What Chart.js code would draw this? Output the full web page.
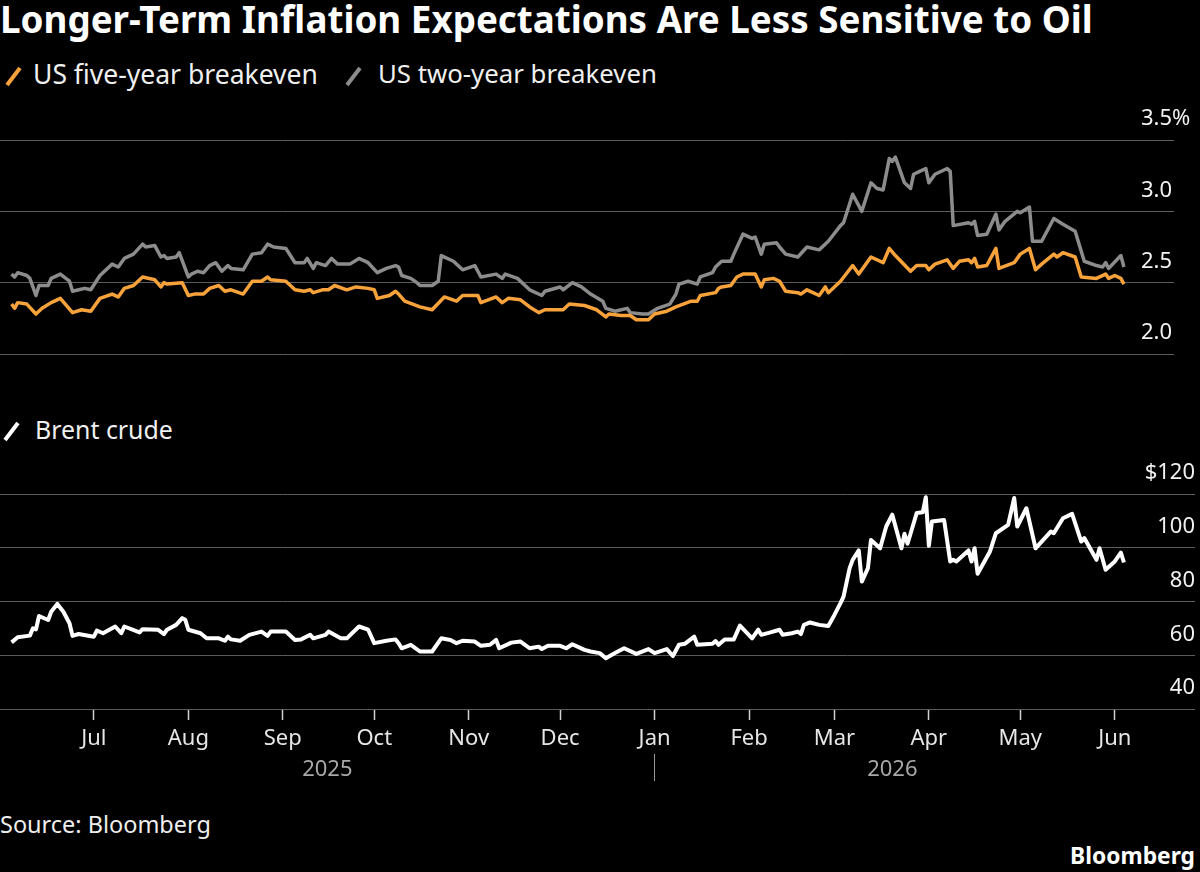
<!DOCTYPE html>
<html>
<head>
<meta charset="utf-8">
<script src="https://cdn.jsdelivr.net/npm/chart.js@4.4.1/dist/chart.umd.min.js"></script>
<style>
  html, body { margin: 0; padding: 0; background: #000; }
  body { width: 1200px; height: 872px; position: relative; overflow: hidden; font-family: 'Noto Sans', sans-serif; color: #fff; }
  .txt { position: absolute; white-space: nowrap; line-height: 1; }
  #title { left: 0; font-weight: 700; font-size: 30px; }
  .legend { font-size: 22px; color: #f0f0f0; }
  .slash { position: absolute; }
  canvas { position: absolute; left: 0; }
  #topChart { top: 100px; }
  #oilChart { top: 460px; }
  #source { left: 0; font-size: 21px; color: #eee; }
  #brand { right: 5px; font-weight: 700; font-size: 22px; }
</style>
</head>
<body>
<div id="title" class="txt">Longer-Term Inflation Expectations Are Less Sensitive to Oil</div>

<svg class="slash" style="left:4px;top:64px" width="20" height="24"><line x1="3" y1="21" x2="16" y2="4" stroke="#f7a23a" stroke-width="4"/></svg>
<div id="lg1" class="txt legend" style="left:33px">US five-year breakeven</div>
<svg class="slash" style="left:344px;top:64px" width="20" height="24"><line x1="3" y1="21" x2="16" y2="4" stroke="#8c8c8c" stroke-width="4"/></svg>
<div id="lg2" class="txt legend" style="left:378px">US two-year breakeven</div>

<svg class="slash" style="left:2px;top:419px" width="20" height="24"><line x1="3" y1="21" x2="16" y2="4" stroke="#ffffff" stroke-width="4"/></svg>
<div id="lg3" class="txt legend" style="left:35px">Brent crude</div>

<canvas id="topChart" width="1200" height="262"></canvas>
<canvas id="oilChart" width="1200" height="340"></canvas>

<div id="source" class="txt">Source: Bloomberg</div>
<div id="brand" class="txt">Bloomberg</div>

<script>
// ---- data ----
const fiveYearDates = [
  '2025-06-04','2025-06-05','2025-06-06','2025-06-09','2025-06-12','2025-06-14','2025-06-17','2025-06-20','2025-06-24','2025-06-27','2025-06-30',
  '2025-07-03','2025-07-07','2025-07-09','2025-07-11','2025-07-14','2025-07-17','2025-07-21','2025-07-23','2025-07-24','2025-07-25','2025-07-30',
  '2025-08-01','2025-08-03','2025-08-06','2025-08-08','2025-08-11','2025-08-13','2025-08-15','2025-08-19','2025-08-22','2025-08-25','2025-08-27','2025-08-28',
  '2025-09-02','2025-09-05','2025-09-08','2025-09-10','2025-09-11','2025-09-14','2025-09-16','2025-09-18','2025-09-22','2025-09-25','2025-09-29',
  '2025-10-01','2025-10-02','2025-10-06','2025-10-08','2025-10-09','2025-10-11','2025-10-16','2025-10-20','2025-10-24','2025-10-28','2025-10-30',
  '2025-11-04','2025-11-05','2025-11-10','2025-11-12','2025-11-14','2025-11-18','2025-11-21','2025-11-24','2025-11-26',
  '2025-12-02','2025-12-04','2025-12-09','2025-12-13','2025-12-16','2025-12-17','2025-12-21','2025-12-24','2025-12-26','2025-12-30',
  '2026-01-01','2026-01-05','2026-01-08','2026-01-13','2026-01-15','2026-01-16','2026-01-21','2026-01-22','2026-01-23','2026-01-26','2026-01-28','2026-01-30',
  '2026-02-03','2026-02-05','2026-02-06','2026-02-09','2026-02-11','2026-02-13','2026-02-17','2026-02-18','2026-02-20','2026-02-24','2026-02-26','2026-02-27',
  '2026-03-03','2026-03-07','2026-03-09','2026-03-13','2026-03-17','2026-03-19','2026-03-21','2026-03-26','2026-03-28','2026-03-31',
  '2026-04-01','2026-04-03','2026-04-07','2026-04-09','2026-04-11','2026-04-14','2026-04-15','2026-04-16','2026-04-17','2026-04-20','2026-04-23','2026-04-24','2026-04-29',
  '2026-05-01','2026-05-04','2026-05-06','2026-05-08','2026-05-12','2026-05-13','2026-05-15','2026-05-19','2026-05-21','2026-05-26','2026-05-29','2026-05-30',
  '2026-06-01','2026-06-03','2026-06-04'
];
const fiveYearValues = [
  2.35,2.32,2.36,2.35,2.28,2.32,2.36,2.39,2.29,2.31,2.30,
  2.39,2.42,2.40,2.46,2.48,2.54,2.52,2.47,2.50,2.49,2.50,
  2.41,2.42,2.42,2.46,2.48,2.44,2.45,2.42,2.51,2.51,2.54,2.52,
  2.51,2.45,2.44,2.45,2.43,2.45,2.45,2.48,2.45,2.47,2.46,
  2.45,2.39,2.41,2.44,2.42,2.37,2.33,2.31,2.40,2.37,2.41,
  2.41,2.36,2.40,2.36,2.39,2.38,2.33,2.29,2.31,
  2.31,2.35,2.34,2.31,2.26,2.28,2.27,2.27,2.24,2.24,
  2.28,2.30,2.33,2.37,2.37,2.41,2.43,2.46,2.47,2.48,2.54,2.56,
  2.56,2.47,2.52,2.53,2.51,2.44,2.43,2.42,2.45,2.41,2.47,2.43,
  2.51,2.62,2.56,2.68,2.64,2.74,2.69,2.58,2.62,2.62,
  2.59,2.63,2.66,2.60,2.65,2.66,2.64,2.67,2.61,2.62,2.74,2.60,2.64,
  2.70,2.74,2.59,2.63,2.70,2.68,2.71,2.68,2.54,2.53,2.56,2.53,
  2.55,2.53,2.49
];

const twoYearDates = [
  '2025-06-04','2025-06-05','2025-06-06','2025-06-09','2025-06-10','2025-06-12','2025-06-13','2025-06-16','2025-06-17','2025-06-20','2025-06-23','2025-06-24','2025-06-26','2025-06-28','2025-06-30',
  '2025-07-03','2025-07-07','2025-07-09','2025-07-11','2025-07-14','2025-07-17','2025-07-18','2025-07-21','2025-07-23','2025-07-24','2025-07-25','2025-07-28','2025-07-29',
  '2025-08-01','2025-08-02','2025-08-04','2025-08-06','2025-08-08','2025-08-10','2025-08-12','2025-08-14','2025-08-15','2025-08-19','2025-08-22','2025-08-25','2025-08-27','2025-08-29',
  '2025-09-02','2025-09-05','2025-09-08','2025-09-09','2025-09-11','2025-09-12','2025-09-15','2025-09-17','2025-09-19','2025-09-23','2025-09-26','2025-09-29',
  '2025-10-02','2025-10-05','2025-10-08','2025-10-09','2025-10-10','2025-10-13','2025-10-15','2025-10-16','2025-10-20','2025-10-22','2025-10-23','2025-10-27','2025-10-30',
  '2025-11-03','2025-11-05','2025-11-10','2025-11-12','2025-11-13','2025-11-17','2025-11-21','2025-11-25','2025-11-26',
  '2025-12-01','2025-12-02','2025-12-05','2025-12-08','2025-12-11','2025-12-15','2025-12-16','2025-12-19','2025-12-23','2025-12-24','2025-12-28','2025-12-30',
  '2026-01-02','2026-01-06','2026-01-08','2026-01-09','2026-01-12','2026-01-15','2026-01-16','2026-01-20','2026-01-21','2026-01-23','2026-01-26','2026-01-27','2026-01-30',
  '2026-02-02','2026-02-03','2026-02-05','2026-02-06','2026-02-10','2026-02-11','2026-02-13','2026-02-17','2026-02-20','2026-02-24','2026-02-27',
  '2026-03-03','2026-03-04','2026-03-07','2026-03-10','2026-03-13','2026-03-15','2026-03-17','2026-03-19','2026-03-20','2026-03-21','2026-03-24','2026-03-26','2026-03-27','2026-03-29','2026-03-31',
  '2026-04-01','2026-04-03','2026-04-07','2026-04-08','2026-04-09','2026-04-14','2026-04-15','2026-04-16','2026-04-17','2026-04-20','2026-04-23','2026-04-24','2026-04-26','2026-04-30',
  '2026-05-01','2026-05-04','2026-05-05','2026-05-08','2026-05-12','2026-05-15','2026-05-19','2026-05-21','2026-05-22','2026-05-26','2026-05-28','2026-05-29','2026-05-30',
  '2026-06-03','2026-06-04'
];
const twoYearValues = [
  2.56,2.54,2.57,2.55,2.53,2.41,2.48,2.48,2.53,2.56,2.51,2.44,2.45,2.46,2.45,
  2.55,2.63,2.61,2.67,2.70,2.77,2.75,2.76,2.68,2.69,2.67,2.68,2.71,
  2.54,2.56,2.58,2.57,2.62,2.64,2.58,2.62,2.60,2.59,2.70,2.71,2.77,2.75,
  2.74,2.64,2.64,2.67,2.60,2.64,2.62,2.67,2.63,2.63,2.67,2.64,
  2.57,2.60,2.62,2.61,2.55,2.53,2.50,2.48,2.48,2.51,2.69,2.65,2.59,
  2.62,2.54,2.56,2.53,2.56,2.53,2.45,2.41,2.44,
  2.47,2.45,2.50,2.47,2.42,2.37,2.32,2.30,2.32,2.29,2.28,2.28,
  2.32,2.35,2.42,2.49,2.51,2.49,2.54,2.57,2.61,2.65,2.65,2.70,2.84,
  2.81,2.82,2.70,2.77,2.78,2.75,2.70,2.68,2.75,2.73,2.79,
  2.90,2.92,3.12,3.00,3.20,3.16,3.15,3.37,3.35,3.38,3.20,3.16,3.26,3.28,3.30,
  3.20,3.26,3.30,3.28,2.90,2.92,2.91,2.93,2.83,2.84,2.98,2.87,2.93,3.00,
  2.99,3.03,2.79,2.79,2.95,2.91,2.86,2.72,2.65,2.62,2.61,2.64,2.60,
  2.69,2.61
];

const brentDates = [
  '2025-06-04','2025-06-06','2025-06-10','2025-06-11','2025-06-12','2025-06-13','2025-06-16','2025-06-17','2025-06-19','2025-06-21','2025-06-23','2025-06-24','2025-06-26',
  '2025-07-01','2025-07-02','2025-07-04','2025-07-08','2025-07-10','2025-07-11','2025-07-16','2025-07-17','2025-07-22','2025-07-24','2025-07-25','2025-07-28','2025-07-30','2025-07-31',
  '2025-08-01','2025-08-05','2025-08-07','2025-08-11','2025-08-13','2025-08-14','2025-08-15','2025-08-18','2025-08-21','2025-08-25','2025-08-27','2025-08-28',
  '2025-09-02','2025-09-05','2025-09-07','2025-09-10','2025-09-11','2025-09-15','2025-09-16','2025-09-20','2025-09-22','2025-09-26','2025-09-29',
  '2025-10-01','2025-10-05','2025-10-08','2025-10-09','2025-10-10','2025-10-13','2025-10-16','2025-10-20','2025-10-23','2025-10-26','2025-10-28','2025-10-30',
  '2025-11-03','2025-11-05','2025-11-08','2025-11-10','2025-11-11','2025-11-15','2025-11-18','2025-11-21','2025-11-24','2025-11-25','2025-11-27',
  '2025-12-01','2025-12-03','2025-12-05','2025-12-09','2025-12-11','2025-12-14','2025-12-16','2025-12-19','2025-12-22','2025-12-26','2025-12-30',
  '2026-01-01','2026-01-05','2026-01-07','2026-01-09','2026-01-11','2026-01-14','2026-01-15','2026-01-20','2026-01-21','2026-01-22','2026-01-24','2026-01-27','2026-01-29',
  '2026-02-02','2026-02-04','2026-02-05','2026-02-08','2026-02-11','2026-02-12','2026-02-15','2026-02-17','2026-02-18','2026-02-19','2026-02-21','2026-02-24','2026-02-27',
  '2026-03-01','2026-03-03','2026-03-04','2026-03-06','2026-03-07','2026-03-09','2026-03-10','2026-03-12','2026-03-13','2026-03-16','2026-03-18','2026-03-20','2026-03-23','2026-03-24','2026-03-25','2026-03-28','2026-03-30','2026-03-31',
  '2026-04-01','2026-04-02','2026-04-06','2026-04-08','2026-04-09','2026-04-10','2026-04-14','2026-04-15','2026-04-16','2026-04-17','2026-04-21','2026-04-23','2026-04-27','2026-04-29','2026-04-30',
  '2026-05-03','2026-05-06','2026-05-11','2026-05-12','2026-05-15','2026-05-18','2026-05-21','2026-05-22','2026-05-26','2026-05-27','2026-05-29',
  '2026-06-01','2026-06-03','2026-06-04'
];
const brentValues = [
  64.8,66.7,67.3,70.0,69.6,74.6,73.1,76.2,79.1,76.2,71.9,67.2,67.9,
  66.9,69.2,68.2,70.7,68.2,70.7,68.5,69.7,69.5,67.9,69.5,71.3,73.8,73.2,
  69.5,68.2,66.3,66.3,65.4,66.9,65.9,65.4,67.6,68.8,67.2,68.8,
  68.8,65.7,65.9,67.6,66.3,67.6,68.8,66.3,66.3,70.7,69.5,
  64.5,65.4,65.9,64.5,62.6,63.9,61.4,61.4,66.3,65.7,64.5,65.4,
  65.1,63.5,63.9,65.7,62.6,64.7,65.1,62.6,63.2,62.3,63.5,
  63.5,62.6,64.1,62.0,61.4,60.8,58.9,60.8,62.6,60.5,62.3,
  60.8,62.3,59.7,63.9,64.3,66.9,63.9,64.3,65.3,63.9,65.9,65.9,71.0,
  66.3,69.5,67.6,68.5,69.5,67.6,68.2,68.8,67.9,71.3,72.2,71.3,70.9,
  75.0,79.4,81.8,92.4,95.5,99.0,87.4,92.4,102.9,99.8,107.9,112.3,99.8,105.2,101.5,112.9,113.2,118.8,
  100.7,109.8,110.3,94.9,95.5,94.9,99.0,94.9,99.8,90.3,98.5,105.4,108.5,118.5,107.9,
  114.7,99.8,106.0,105.4,111.0,112.6,102.3,103.6,95.5,99.8,91.8,
  94.9,98.2,94.5
];

const monthStarts = ['2025-07-01','2025-08-01','2025-09-01','2025-10-01','2025-11-01','2025-12-01',
                     '2026-01-01','2026-02-01','2026-03-01','2026-04-01','2026-05-01','2026-06-01'];
const monthLabels = ['Jul','Aug','Sep','Oct','Nov','Dec','Jan','Feb','Mar','Apr','May','Jun'];
const yearLabels = ['2025', '2026'];
const yearBreak = '2026-01-01';
const pctTicks = [2.0, 2.5, 3.0, 3.5];
const oilTicks = [40, 60, 80, 100, 120];

// ---- helpers ----
const BASE = Date.UTC(2025, 6, 1);
function dayNum(s) {
  const [y, m, d] = s.split('-').map(Number);
  return (Date.UTC(y, m - 1, d) - BASE) / 864e5;
}
function pairs(dates, vals) {
  return dates.map((d, i) => ({ x: dayNum(d), y: vals[i] }));
}

const FONT = "'Noto Sans', sans-serif";
const ORANGE = '#f7a23a';
const GRAY = '#8c8c8c';
const GRID = '#5c5c5c';
const X_MIN = -30.8, X_MAX = 340;

// size text to the reference width, and put its cap-height centre at y
function place(id, y, width) {
  const el = document.getElementById(id);
  const cs = getComputedStyle(el);
  const ctx = document.createElement('canvas').getContext('2d');
  ctx.font = cs.fontWeight + ' ' + cs.fontSize + ' ' + FONT;
  const w = ctx.measureText(el.textContent).width;
  const fs = parseFloat(cs.fontSize) * width / w;
  el.style.fontSize = fs + 'px';
  el.style.top = (y - 0.53 * fs) + 'px';
}
place('title', 20, 1093);
place('lg1', 75, 285);
place('lg2', 75, 279);
place('lg3', 430, 138);
place('source', 825, 211);
place('brand', 857, 125);

Chart.defaults.font.family = FONT;
Chart.defaults.color = '#fff';

// ---- breakevens ----
new Chart(document.getElementById('topChart'), {
  type: 'line',
  data: {
    datasets: [
      { label: 'US five-year breakeven', data: pairs(fiveYearDates, fiveYearValues),
        borderColor: ORANGE, borderWidth: 3.5, pointRadius: 0, borderJoinStyle: 'round' },
      { label: 'US two-year breakeven', data: pairs(twoYearDates, twoYearValues),
        borderColor: GRAY, borderWidth: 3.5, pointRadius: 0, borderJoinStyle: 'round' }
    ]
  },
  options: {
    responsive: false,
    animation: false,
    layout: { padding: { top: 40, bottom: 8, left: 0, right: 5 } },
    plugins: { legend: { display: false }, tooltip: { enabled: false } },
    scales: {
      x: { type: 'linear', min: X_MIN, max: X_MAX, display: false },
      y: {
        position: 'right', min: 2, max: 3.5,
        afterBuildTicks: s => { s.ticks = pctTicks.map(v => ({ value: v })); },
        afterFit: s => { s.width = 65; },
        grid: { color: GRID, lineWidth: 1, tickLength: 44 },
        border: { display: false },
        ticks: {
          crossAlign: 'near', padding: -33, labelOffset: -21,
          color: '#f2f2f2', font: { size: 22 },
          callback: v => v === 3.5 ? '3.5%' : v.toFixed(1)
        }
      }
    }
  }
});

// ---- Brent ----
new Chart(document.getElementById('oilChart'), {
  type: 'line',
  data: {
    datasets: [
      { label: 'Brent crude', data: pairs(brentDates, brentValues),
        borderColor: '#ffffff', borderWidth: 4, pointRadius: 0, borderJoinStyle: 'round' }
    ]
  },
  options: {
    responsive: false,
    animation: false,
    layout: { padding: { top: 34, bottom: 0, left: 0, right: 5 } },
    plugins: { legend: { display: false }, tooltip: { enabled: false } },
    scales: {
      x: {
        type: 'linear', position: 'bottom', min: X_MIN, max: X_MAX,
        afterBuildTicks: s => { s.ticks = monthStarts.map(d => ({ value: dayNum(d) })); },
        afterFit: s => { s.height = 45; },
        grid: { drawOnChartArea: false, tickLength: 11, tickColor: '#d0d0d0', tickWidth: 1.5 },
        border: { display: false },
        ticks: {
          autoSkip: false, maxRotation: 0, padding: 6,
          color: '#e6e6e6', font: { size: 22 },
          callback: (v, i) => monthLabels[i]
        }
      },
      year: {
        type: 'linear', position: 'bottom', weight: 1, min: X_MIN, max: X_MAX,
        afterBuildTicks: s => {
          const b = dayNum(yearBreak);
          s.ticks = [{ value: (s.min + b) / 2 }, { value: b }, { value: (b + s.max) / 2 }];
        },
        afterFit: s => { s.height = 46; },
        grid: {
          drawOnChartArea: false, tickLength: 27, tickWidth: 1,
          tickColor: c => c.index === 1 ? '#9a9a9a' : 'rgba(0,0,0,0)'
        },
        border: { display: false },
        ticks: {
          autoSkip: false, maxRotation: 0, padding: -24,
          color: '#a8a8a8', font: { size: 22 },
          callback: (v, i) => i === 0 ? yearLabels[0] : i === 2 ? yearLabels[1] : ''
        }
      },
      y: {
        position: 'right', min: 40, max: 120,
        afterBuildTicks: s => { s.ticks = oilTicks.map(v => ({ value: v })); },
        afterFit: s => { s.width = 65; },
        grid: { color: GRID, lineWidth: 1, tickLength: 65 },
        border: { display: false },
        ticks: {
          crossAlign: 'far', padding: 0, labelOffset: -21,
          color: '#f2f2f2', font: { size: 22 },
          callback: v => v === 120 ? '$120' : String(v)
        }
      }
    }
  }
});
</script>
</body>
</html>
